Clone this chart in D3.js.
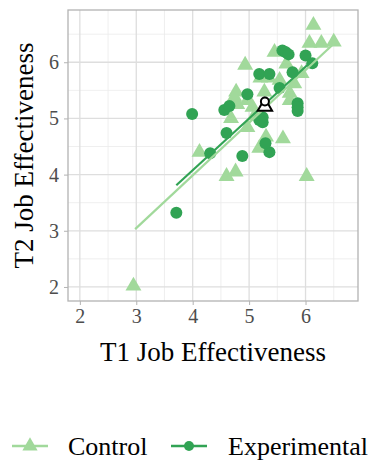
<!DOCTYPE html>
<html>
<head>
<meta charset="utf-8">
<script src="https://cdn.jsdelivr.net/npm/d3@7"></script>
<style>
  body { margin: 0; background: #fff; }
  svg { font-family: "Liberation Serif", serif; }
</style>
</head>
<body>
<svg width="383" height="461"></svg>
<script>
// Control (triangles): T1, T2
var controlX = [2.95, 6.02, 4.60, 4.76, 4.12, 5.18, 5.30, 4.97, 5.60, 4.68, 4.77, 4.79, 5.27, 5.06, 5.72, 5.72, 5.54, 5.66, 5.80, 4.93, 5.45, 6.14, 6.07, 6.28, 6.50, 5.20, 5.35, 4.97, 5.93, 4.74, 5.10];
var controlY = [2.02, 3.97, 3.97, 4.05, 4.40, 4.47, 4.67, 4.84, 4.64, 5.00, 5.47, 5.25, 5.47, 5.20, 5.45, 5.32, 5.68, 5.97, 5.62, 5.95, 6.18, 6.66, 6.34, 6.34, 6.36, 5.72, 5.72, 5.32, 5.80, 5.38, 5.05];
// Experimental (circles)
var expX = [3.71, 4.31, 4.88, 5.36, 5.29, 4.60, 5.24, 5.24, 5.18, 3.99, 4.56, 4.65, 4.97, 5.18, 5.36, 5.86, 5.86, 5.86, 5.77, 5.59, 5.65, 5.70, 6.00, 6.12, 5.54];
var expY = [3.32, 4.38, 4.33, 4.40, 4.56, 4.74, 4.93, 5.02, 4.97, 5.08, 5.15, 5.22, 5.43, 5.79, 5.79, 5.27, 5.20, 5.13, 5.82, 6.21, 6.18, 6.14, 6.12, 5.98, 5.54];

// fitted lines [x0, y0, x1, y1]
var controlFit = [2.98, 3.03, 6.50, 6.33];
var expFit = [3.71, 3.81, 6.12, 6.03];
// group means
var controlMean = [5.28, 5.21];
var expMean = [5.28, 5.30];

var xTicks = [2, 3, 4, 5, 6];
var yTicks = [2, 3, 4, 5, 6];
var minorTicks = [2.5, 3.5, 4.5, 5.5, 6.5];

var lightGreen = "#a1d99b", darkGreen = "#31a354";

var svg = d3.select("svg");
var pLeft = 68, pRight = 358, pTop = 10, pBottom = 301;

var x = d3.scaleLinear().domain([1.79, 6.93]).range([pLeft, pRight]);
var y = d3.scaleLinear().domain([1.75, 6.93]).range([pBottom, pTop]);

// grid
var grid = svg.append("g");
grid.selectAll(".mx").data(minorTicks).enter().append("line")
  .attr("x1", d => x(d)).attr("x2", d => x(d)).attr("y1", pTop).attr("y2", pBottom)
  .attr("stroke", "#ebebeb").attr("stroke-width", 0.8);
grid.selectAll(".my").data(minorTicks).enter().append("line")
  .attr("y1", d => y(d)).attr("y2", d => y(d)).attr("x1", pLeft).attr("x2", pRight)
  .attr("stroke", "#ebebeb").attr("stroke-width", 0.8);
grid.selectAll(".gx").data(xTicks).enter().append("line")
  .attr("x1", d => x(d)).attr("x2", d => x(d)).attr("y1", pTop).attr("y2", pBottom)
  .attr("stroke", "#dedede").attr("stroke-width", 1.3);
grid.selectAll(".gy").data(yTicks).enter().append("line")
  .attr("y1", d => y(d)).attr("y2", d => y(d)).attr("x1", pLeft).attr("x2", pRight)
  .attr("stroke", "#dedede").attr("stroke-width", 1.3);

// axes
var xAxis = svg.append("g")
  .attr("transform", "translate(0," + pBottom + ")")
  .call(d3.axisBottom(x).tickValues(xTicks).tickSize(4).tickPadding(4).tickFormat(d3.format("d")));
var yAxis = svg.append("g")
  .attr("transform", "translate(" + pLeft + ",0)")
  .call(d3.axisLeft(y).tickValues(yTicks).tickSize(4).tickPadding(5).tickFormat(d3.format("d")));
[xAxis, yAxis].forEach(function(a) {
  a.select(".domain").remove();
  a.selectAll(".tick line").attr("stroke", "#b3b3b3").attr("stroke-width", 1);
  a.selectAll(".tick text").attr("fill", "#4d4d4d")
    .style("font-family", "Liberation Serif, serif").style("font-size", "20px");
});

// panel border
svg.append("rect").attr("x", pLeft).attr("y", pTop)
  .attr("width", pRight - pLeft).attr("height", pBottom - pTop)
  .attr("fill", "none").attr("stroke", "#b3b3b3").attr("stroke-width", 1.3);

var tri = d3.symbol().type(d3.symbolTriangle).size(110);
var control = d3.range(controlX.length).map(i => ({x: controlX[i], y: controlY[i]}));
var experimental = d3.range(expX.length).map(i => ({x: expX[i], y: expY[i]}));

svg.append("g").selectAll("path").data(control).enter().append("path")
  .attr("d", tri)
  .attr("transform", d => "translate(" + x(d.x) + "," + y(d.y) + ")")
  .attr("fill", lightGreen);

svg.append("g").selectAll("circle").data(experimental).enter().append("circle")
  .attr("cx", d => x(d.x)).attr("cy", d => y(d.y)).attr("r", 6)
  .attr("fill", darkGreen);

// fit lines
svg.append("line")
  .attr("x1", x(controlFit[0])).attr("y1", y(controlFit[1]))
  .attr("x2", x(controlFit[2])).attr("y2", y(controlFit[3]))
  .attr("stroke", lightGreen).attr("stroke-width", 2.2);
svg.append("line")
  .attr("x1", x(expFit[0])).attr("y1", y(expFit[1]))
  .attr("x2", x(expFit[2])).attr("y2", y(expFit[3]))
  .attr("stroke", darkGreen).attr("stroke-width", 2.2);

// means
svg.append("path")
  .attr("d", d3.symbol().type(d3.symbolTriangle).size(90))
  .attr("transform", "translate(" + x(controlMean[0]) + "," + y(controlMean[1]) + ")")
  .attr("fill", "#fff").attr("stroke", "#000").attr("stroke-width", 2);
svg.append("circle")
  .attr("cx", x(expMean[0])).attr("cy", y(expMean[1])).attr("r", 4)
  .attr("fill", "#fff").attr("stroke", "#000").attr("stroke-width", 2);

// axis titles
svg.append("text")
  .attr("x", (pLeft + pRight) / 2).attr("y", 361)
  .attr("text-anchor", "middle").style("font-size", "27px").attr("fill", "#000")
  .text("T1 Job Effectiveness");
svg.append("text")
  .attr("transform", "translate(33," + ((pTop + pBottom) / 2) + ") rotate(-90)")
  .attr("text-anchor", "middle").style("font-size", "27px").attr("fill", "#000")
  .text("T2 Job Effectiveness");

// legend
var legend = svg.append("g");
var ly = 446;
legend.append("line").attr("x1", 12).attr("x2", 48).attr("y1", ly).attr("y2", ly)
  .attr("stroke", lightGreen).attr("stroke-width", 2.5);
legend.append("path").attr("d", d3.symbol().type(d3.symbolTriangle).size(100))
  .attr("transform", "translate(30," + ly + ")").attr("fill", lightGreen);
legend.append("text").attr("x", 68).attr("y", 455).style("font-size", "26px").text("Control");
legend.append("line").attr("x1", 171).attr("x2", 207).attr("y1", ly).attr("y2", ly)
  .attr("stroke", darkGreen).attr("stroke-width", 2.5);
legend.append("circle").attr("cx", 189).attr("cy", ly).attr("r", 5).attr("fill", darkGreen);
legend.append("text").attr("x", 228).attr("y", 455).style("font-size", "26px").text("Experimental");
</script>
</body>
</html>
